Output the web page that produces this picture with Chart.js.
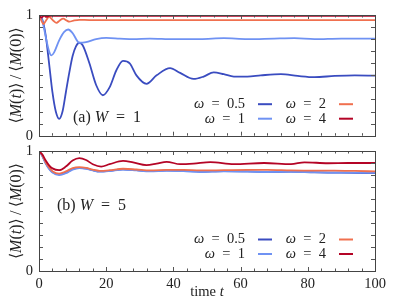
<!DOCTYPE html>
<html>
<head>
<meta charset="utf-8">
<script src="https://cdn.jsdelivr.net/npm/chart.js@4.4.1/dist/chart.umd.min.js"></script>
<style>
  html, body { margin: 0; padding: 0; background: #fff; }
  #wrap { position: relative; width: 395px; height: 302px; }
  canvas { position: absolute; left: 0; }
  #top { top: 0; }
  #bot { top: 140px; }
</style>
</head>
<body>
<div id="wrap">
  <canvas id="top" width="395" height="140"></canvas>
  <canvas id="bot" width="395" height="162"></canvas>
</div>
<script>
// values

const omegaLabels = ['0.5', '1', '2', '4'];
const colors = ['#3a4cc0', '#6f92f3', '#f0704f', '#b40426'];

// (a) W = 1
const tA05 = [0, 1, 2, 3, 4, 5, 6, 7, 8, 9, 10, 11, 12, 13, 15, 17, 19, 21, 23, 25, 27, 29, 32, 35, 39, 42, 46, 49, 52, 55, 58, 62, 66, 72, 77, 82, 88, 94, 100];
const yA05 = [1, 0.96, 0.83, 0.6, 0.36, 0.2, 0.14, 0.2, 0.36, 0.52, 0.66, 0.74, 0.77, 0.75, 0.6, 0.42, 0.335, 0.4, 0.54, 0.62, 0.6, 0.5, 0.43, 0.5, 0.56, 0.52, 0.47, 0.49, 0.525, 0.51, 0.49, 0.49, 0.5, 0.51, 0.495, 0.485, 0.495, 0.5, 0.497];

const tA1 = [0, 1, 2, 3, 3.7, 4.5, 6, 7.5, 8.7, 10, 12, 14, 17, 20, 24, 28, 33, 40, 48, 55, 62, 70, 76, 82, 90, 100];
const yA1 = [1, 0.95, 0.82, 0.7, 0.665, 0.69, 0.79, 0.86, 0.88, 0.85, 0.77, 0.775, 0.8, 0.81, 0.805, 0.8, 0.805, 0.8, 0.8, 0.808, 0.8, 0.805, 0.808, 0.8, 0.805, 0.805];

const tA2 = [0, 0.6, 1.3, 2, 3, 4.2, 5.2, 6.2, 7.2, 8.2, 9, 10.5, 12, 15, 30, 60, 100];
const yA2 = [1, 0.96, 0.925, 0.95, 0.985, 0.955, 0.935, 0.955, 0.97, 0.955, 0.945, 0.955, 0.96, 0.958, 0.958, 0.958, 0.958];

const tA4 = [0, 0.7, 1.5, 2.2, 3, 10, 50, 100];
const yA4 = [1, 0.978, 0.995, 0.984, 0.993, 0.993, 0.993, 0.993];

// (b) W = 5
const tB = [0, 1, 2, 3, 4, 6, 8, 10, 12, 14, 16, 18, 21, 25, 29, 33, 38, 43, 48, 55, 62, 68, 75, 82, 88, 94, 100];
const yB05 = [1, 0.96, 0.9, 0.855, 0.825, 0.805, 0.82, 0.85, 0.86, 0.855, 0.84, 0.83, 0.835, 0.848, 0.84, 0.832, 0.838, 0.835, 0.828, 0.832, 0.83, 0.826, 0.828, 0.822, 0.82, 0.818, 0.815];
const yB1 = [1, 0.955, 0.895, 0.85, 0.82, 0.8, 0.815, 0.845, 0.858, 0.852, 0.838, 0.828, 0.833, 0.845, 0.838, 0.83, 0.835, 0.832, 0.825, 0.83, 0.828, 0.825, 0.827, 0.824, 0.82, 0.82, 0.817];
const yB2 = [1, 0.965, 0.905, 0.862, 0.832, 0.812, 0.83, 0.858, 0.866, 0.86, 0.845, 0.835, 0.84, 0.852, 0.846, 0.838, 0.842, 0.843, 0.838, 0.84, 0.842, 0.843, 0.838, 0.836, 0.837, 0.834, 0.83];

const tB4 = [0, 1, 2, 3, 4, 6, 8, 10, 12, 14, 16, 18.5, 21, 25, 28, 32, 35, 38, 42, 46, 51, 58, 67, 75, 79, 86, 92, 100];
const yB4 = [1, 0.97, 0.92, 0.88, 0.855, 0.84, 0.87, 0.92, 0.94, 0.925, 0.89, 0.87, 0.89, 0.917, 0.905, 0.883, 0.895, 0.91, 0.89, 0.895, 0.908, 0.89, 0.9, 0.89, 0.906, 0.898, 0.9, 0.9];

const xTicks = [0, 20, 40, 60, 80, 100];

const SERIF = '"Liberation Serif", "DejaVu Serif", serif';
const EQ = '\u2002=\u2002';
Chart.defaults.font.family = SERIF;

function pts(ts, ys) {
  return ts.map((t, i) => ({ x: t, y: ys[i] }));
}

// text runs as [text, italic]
function runWidth(ctx, runs, size) {
  let w = 0;
  runs.forEach(r => {
    ctx.font = (r[1] ? 'italic ' : '') + size + 'px ' + SERIF;
    w += ctx.measureText(r[0]).width;
  });
  return w;
}
function drawRuns(ctx, runs, x, y, size) {
  runs.forEach(r => {
    ctx.font = (r[1] ? 'italic ' : '') + size + 'px ' + SERIF;
    ctx.fillText(r[0], x, y);
    x += ctx.measureText(r[0]).width;
  });
}

// frame, inward ticks, legend and labels
const decor = {
  id: 'decor',
  afterDraw(chart, args, o) {
    const ctx = chart.ctx;
    const a = chart.chartArea;
    const xs = chart.scales.x, ys = chart.scales.y;
    ctx.save();
    ctx.strokeStyle = '#555';
    ctx.lineWidth = 1;
    ctx.beginPath();
    for (let t = 0; t <= 100; t += 4) {
      const px = Math.round(xs.getPixelForValue(t)) + 0.5;
      const len = t % 20 === 0 ? 4 : 2.5;
      ctx.moveTo(px, a.bottom); ctx.lineTo(px, a.bottom - len);
      ctx.moveTo(px, a.top); ctx.lineTo(px, a.top + len);
    }
    for (let k = 0; k <= 10; k++) {
      const py = Math.round(ys.getPixelForValue(k / 10)) + 0.5;
      ctx.moveTo(a.left, py); ctx.lineTo(a.left + 4, py);
      ctx.moveTo(a.right, py); ctx.lineTo(a.right - 4, py);
    }
    ctx.stroke();
    ctx.strokeStyle = '#444';
    ctx.strokeRect(Math.round(a.left) + 0.5, Math.round(a.top) + 0.5,
      Math.round(a.right - a.left), Math.round(a.bottom - a.top));

    ctx.fillStyle = '#222';
    ctx.textBaseline = 'middle';

    // legend
    const rows = [a.bottom - 31.5, a.bottom - 17];
    const cols = [a.right - 130, a.right - 49];
    omegaLabels.forEach((lab, i) => {
      const col = Math.floor(i / 2), row = i % 2;
      const runs = [['ω', true], [EQ + lab, false]];
      const w = runWidth(ctx, runs, 14.5);
      drawRuns(ctx, runs, cols[col] - w, rows[row], 14.5);
      ctx.strokeStyle = colors[i];
      ctx.lineWidth = 2;
      ctx.beginPath();
      ctx.moveTo(cols[col] + 13, rows[row]);
      ctx.lineTo(cols[col] + 27, rows[row]);
      ctx.stroke();
    });

    // panel label
    drawRuns(ctx, o.panel, a.left + o.px, a.top + o.py, 16);

    // y title (rotated)
    ctx.save();
    ctx.translate(17, (a.top + a.bottom) / 2);
    ctx.rotate(-Math.PI / 2);
    const yt = [['⟨', false], ['M', true], ['(', false], ['t', true], [')⟩\u2009/\u2009⟨', false], ['M', true], ['(0)⟩', false]];
    const yw = runWidth(ctx, yt, 16);
    drawRuns(ctx, yt, -yw / 2, 0, 16);
    ctx.restore();

    // x title
    if (o.xTitle) {
      const xt = [['time ', false], ['t', true]];
      const xw = runWidth(ctx, xt, 14.5);
      drawRuns(ctx, xt, (a.left + a.right) / 2 - xw / 2, a.bottom + 21, 14.5);
    }
    ctx.restore();
  }
};

function makePanel(id, series, showX, panel, px, py, padTop, xHeight) {
  const datasets = series.map((s, i) => ({
    label: 'ω = ' + omegaLabels[i],
    data: s,
    borderColor: colors[i],
    borderWidth: 1.8,
    pointRadius: 0,
    fill: false,
    cubicInterpolationMode: 'monotone',
    order: 4 - i
  }));
  return new Chart(document.getElementById(id), {
    type: 'line',
    data: { datasets: datasets },
    options: {
      responsive: false,
      animation: false,
      devicePixelRatio: 1,
      layout: { padding: { left: 0, right: 20, top: padTop, bottom: showX ? 0 : 4 } },
      plugins: {
        legend: { display: false },
        tooltip: { enabled: false },
        decor: { panel: panel, px: px, py: py, xTitle: showX }
      },
      scales: {
        x: {
          type: 'linear',
          min: 0,
          max: 100,
          grid: { display: false, drawTicks: false },
          border: { display: false },
          afterBuildTicks: s => { s.ticks = xTicks.map(v => ({ value: v })); },
          ticks: {
            display: showX,
            padding: 4,
            maxRotation: 0,
            color: '#222',
            font: { family: SERIF, size: 14.5 }
          },
          afterFit: s => { s.height = xHeight; s.paddingLeft = 0; s.paddingRight = 0; }
        },
        y: {
          min: 0,
          max: 1,
          grid: { display: false, drawTicks: false },
          border: { display: false },
          ticks: {
            stepSize: 0.1,
            padding: 6,
            color: '#222',
            font: { family: SERIF, size: 14.5 },
            callback: v => (v === 0 || v === 1) ? String(v) : ''
          },
          afterFit: s => { s.width = 39; s.paddingTop = 0; s.paddingBottom = 0; }
        }
      }
    },
    plugins: [decor]
  });
}

makePanel('top',
  [pts(tA05, yA05), pts(tA1, yA1), pts(tA2, yA2), pts(tA4, yA4)],
  false, [['(a) ', false], ['W', true], [EQ + '1', false]], 34, 103, 15, 0.3);

makePanel('bot',
  [pts(tB, yB05), pts(tB, yB1), pts(tB, yB2), pts(tB4, yB4)],
  true, [['(b) ', false], ['W', true], [EQ + '5', false]], 18, 55, 11, 31);
</script>
</body>
</html>
